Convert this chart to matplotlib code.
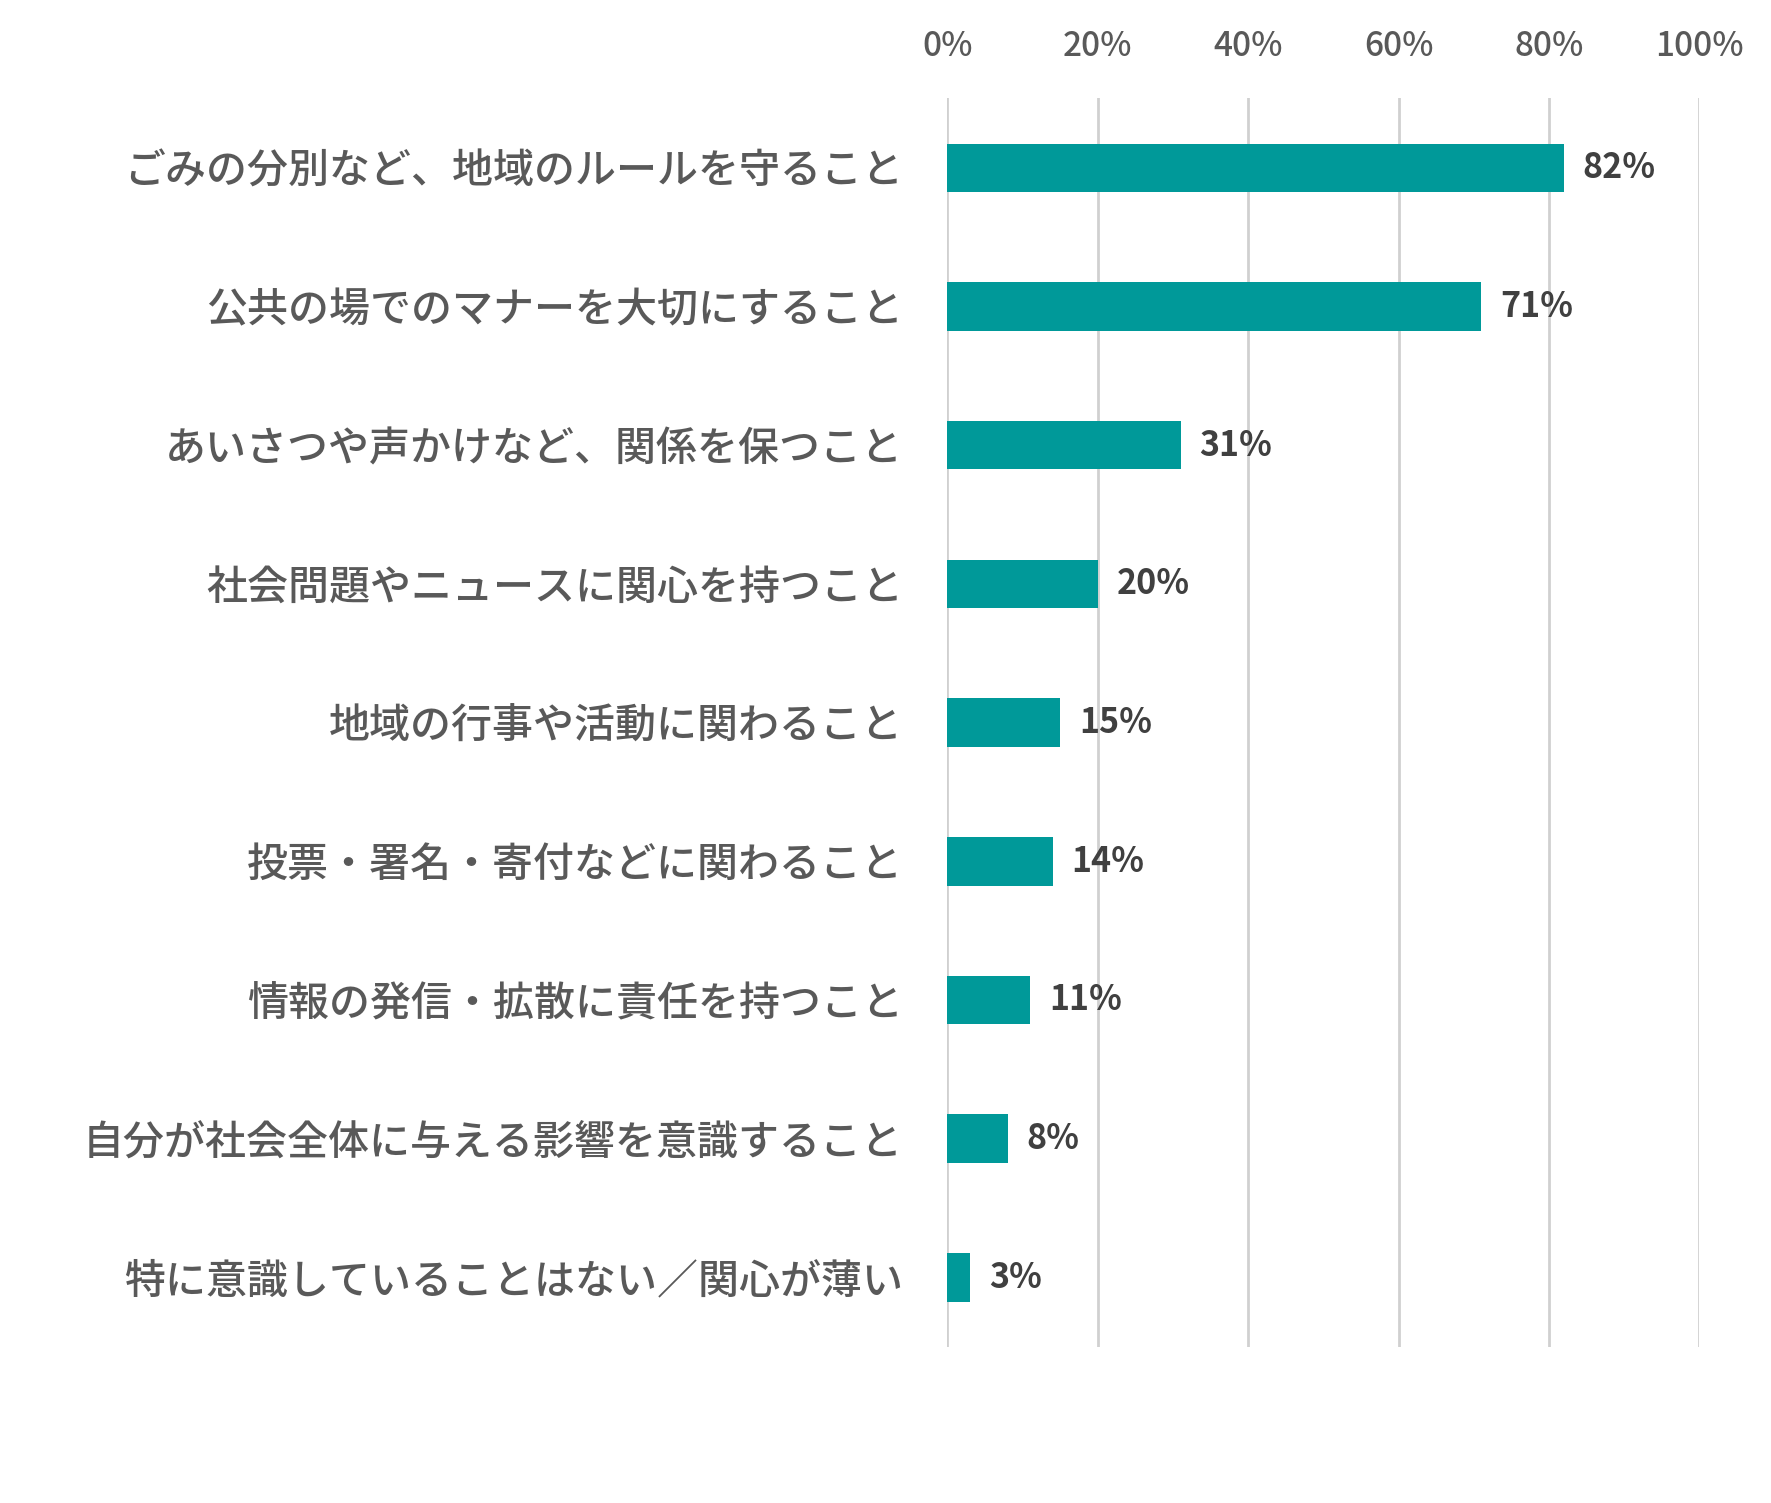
import matplotlib
matplotlib.use("Agg")
import matplotlib.pyplot as plt
import matplotlib.ticker as mticker

plt.rcParams['font.family'] = ['Noto Sans CJK JP', 'DejaVu Sans']

categories = ['ごみの分別など、地域のルールを守ること',
              '公共の場でのマナーを大切にすること',
              'あいさつや声かけなど、関係を保つこと',
              '社会問題やニュースに関心を持つこと',
              '地域の行事や活動に関わること',
              '投票・署名・寄付などに関わること',
              '情報の発信・拡散に責任を持つこと',
              '自分が社会全体に与える影響を意識すること',
              '特に意識していることはない／関心が薄い']
values = [82, 71, 31, 20, 15, 14, 11, 8, 3]
xticks = [0, 20, 40, 60, 80, 100]

fig = plt.figure(figsize=(17.71, 15.03), dpi=100)
ax = fig.add_axes([0.535, 0.104, 0.4245, 0.8305])

ypos = list(range(len(categories)))
ax.barh(ypos, values, height=0.35, color='#009999', zorder=3)

ax.set_xlim(0, 100)
ax.set_ylim(len(categories) - 0.5, -0.5)
ax.set_xticks(xticks)
ax.xaxis.set_major_formatter(mticker.FuncFormatter(lambda v, p: f'{v:.0f}%'))
ax.xaxis.tick_top()
ax.tick_params(axis='x', length=0, pad=25, labelsize=24, labelcolor='#595959')
for lab in ax.get_xticklabels():
    lab.set_fontweight('medium')
ax.set_yticks(ypos)
ax.set_yticklabels(categories, fontsize=29.5, color='#595959', fontweight='medium')
ax.tick_params(axis='y', length=0, pad=32)
ax.grid(axis='x', color='#d0d0d0', linewidth=2, zorder=0)
for s in ax.spines.values():
    s.set_visible(False)

for y, v in zip(ypos, values):
    ax.text(v + 2.5, y, f'{v}%', va='center', ha='left', fontsize=24.5,
            fontweight='bold', color='#404040')

fig.savefig('out.png', dpi=100, facecolor='white')
